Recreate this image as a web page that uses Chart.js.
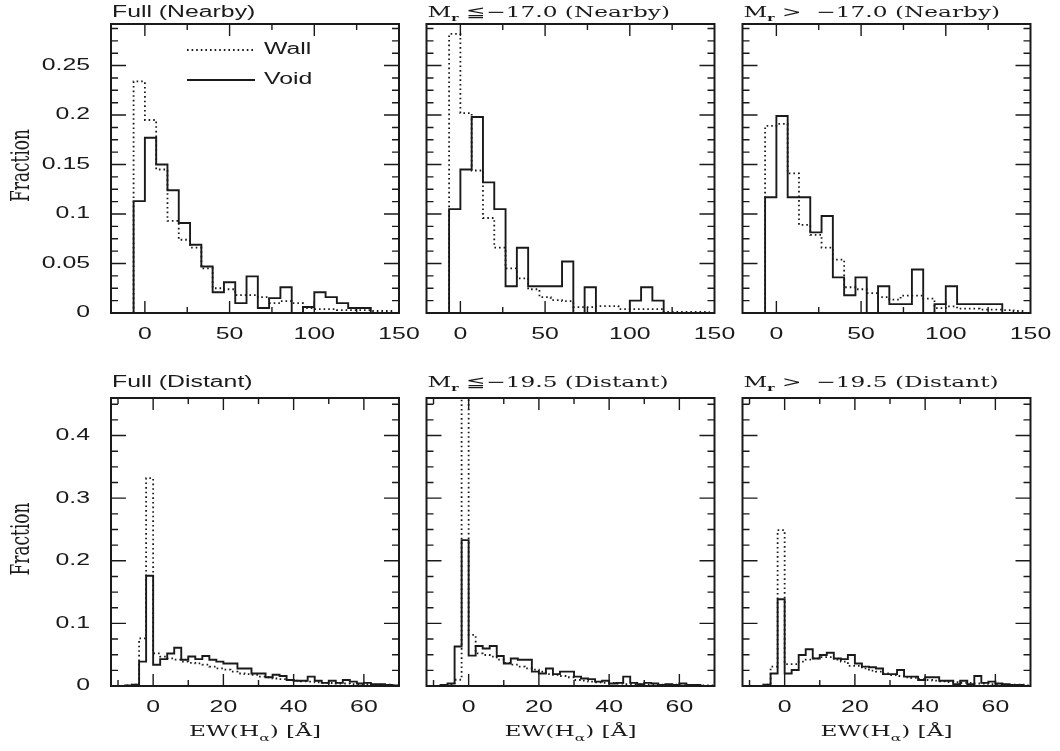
<!DOCTYPE html>
<html>
<head>
<meta charset="utf-8">
<script src="https://cdn.jsdelivr.net/npm/chart.js@4.4.0/dist/chart.umd.min.js"></script>
<style>
  html, body { margin: 0; padding: 0; background: #fff; }
  #wrap { position: relative; width: 1060px; height: 751px; }
  #wrap canvas { position: absolute; left: 0; top: 0; }
</style>
</head>
<body>
<div id="wrap">
  <canvas id="p0" width="1060" height="751"></canvas>
  <canvas id="p1" width="1060" height="751"></canvas>
  <canvas id="p2" width="1060" height="751"></canvas>
  <canvas id="p3" width="1060" height="751"></canvas>
  <canvas id="p4" width="1060" height="751"></canvas>
  <canvas id="p5" width="1060" height="751"></canvas>
</div>
<script>
// =============== Data ===============
// Nearby samples: bins of 20/3 A starting at -20/3
const nearbyBinStart = -20 / 3;
const nearbyBinWidth = 20 / 3;
const nearbyXTicks = [0, 50, 100, 150];
const nearbyYTicks = [0, 0.05, 0.1, 0.15, 0.2, 0.25];

const fullNearbyWall = [0.234, 0.195, 0.145, 0.093, 0.074, 0.066, 0.045, 0.025, 0.024, 0.018, 0.018, 0.016,
  0.010, 0.012, 0.010, 0.005, 0.004, 0.004, 0.003, 0.003, 0.003, 0.002, 0.002];
const fullNearbyVoid = [0.113, 0.177, 0.150, 0.124, 0.091, 0.069, 0.047, 0.021, 0.031, 0.010, 0.037, 0.005,
  0.015, 0.026, 0, 0.006, 0.021, 0.016, 0.010, 0.005, 0.005, 0, 0];

const brightNearbyWall = [0.282, 0.202, 0.144, 0.096, 0.066, 0.045, 0.035, 0.024, 0.016, 0.013, 0.012, 0.006,
  0.006, 0.007, 0.007, 0.004, 0.004, 0.004, 0.004, 0.001, 0.001, 0.001, 0.001];
const brightNearbyVoid = [0.105, 0.145, 0.198, 0.132, 0.105, 0.027, 0.066, 0.027, 0.027, 0.027, 0.052, 0,
  0.026, 0, 0, 0, 0.0125, 0.026, 0.0125, 0, 0, 0, 0];

const faintNearbyWall = [0.189, 0.191, 0.141, 0.089, 0.079, 0.066, 0.054, 0.026, 0.024, 0.020, 0.016, 0.0135,
  0.0175, 0.0175, 0.0145, 0.005, 0.0067, 0.0044, 0.0044, 0.0034, 0.0034, 0.003, 0.002];
const faintNearbyVoid = [0.117, 0.199, 0.117, 0.117, 0.0815, 0.098, 0.036, 0.018, 0.036, 0, 0.027, 0.009,
  0.009, 0.044, 0, 0.009, 0.027, 0.009, 0.009, 0.009, 0.009, 0, 0];

// Distant samples: bins of 2 A starting at -10
const distantBinStart = -10;
const distantBinWidth = 2;
const distantXTicks = [0, 20, 40, 60];
const distantYTicks = [0, 0.1, 0.2, 0.3, 0.4];

const fullDistantWall = [0, 0.001, 0.002, 0.076, 0.332,
  0.052, 0.047, 0.044, 0.042, 0.039, 0.037, 0.036, 0.034, 0.031, 0.028,
  0.026, 0.023, 0.020, 0.019, 0.018, 0.015, 0.014, 0.012, 0.011, 0.0096,
  0.0085, 0.0075, 0.007, 0.006, 0.005, 0.0048, 0.004, 0.004, 0.003, 0.003,
  0.003, 0.002, 0.002, 0.002, 0.001];
const fullDistantVoid = [0, 0.001, 0.002, 0.039, 0.176,
  0.034, 0.043, 0.052, 0.061, 0.042, 0.047, 0.043, 0.048, 0.042, 0.039,
  0.036, 0.036, 0.028, 0.028, 0.020, 0.020, 0.014, 0.018, 0.016, 0.0096,
  0.0085, 0.0085, 0.015, 0.0085, 0.005, 0.0085, 0.005, 0.0096, 0.007, 0.004,
  0.005, 0.003, 0.003, 0.0016, 0.001];

const brightDistantWall = [0, 0, 0.002, 0.01, 0.48,
  0.0815, 0.052, 0.0495, 0.047, 0.042, 0.037, 0.034, 0.031, 0.028, 0.026,
  0.023, 0.019, 0.018, 0.016, 0.014, 0.0096, 0.0085, 0.007, 0.006, 0.005,
  0.005, 0.004, 0.003, 0.003, 0.003, 0.002, 0.002, 0.002, 0.002, 0.002,
  0.001, 0.001, 0.001, 0.001, 0.001];
const brightDistantVoid = [0, 0.0016, 0.004, 0.063, 0.233,
  0.0485, 0.064, 0.060, 0.064, 0.048, 0.036, 0.044, 0.042, 0.042, 0.023,
  0.020, 0.028, 0.019, 0.023, 0.023, 0.015, 0.012, 0.011, 0.007, 0.0085,
  0.004, 0.005, 0.015, 0.005, 0.003, 0.005, 0.004, 0.0016, 0.003, 0.0016,
  0.004, 0.0016, 0.0016, 0, 0];

const faintDistantWall = [0, 0, 0.002, 0.031, 0.249,
  0.035, 0.035, 0.039, 0.042, 0.044, 0.046, 0.046, 0.042, 0.039, 0.032,
  0.032, 0.028, 0.0245, 0.023, 0.020, 0.0176, 0.016, 0.014, 0.013, 0.011,
  0.0096, 0.0085, 0.0075, 0.0064, 0.006, 0.005, 0.005, 0.004, 0.004, 0.003,
  0.003, 0.002, 0.002, 0.002, 0.001];
const faintDistantVoid = [0, 0, 0.002, 0.020, 0.1385,
  0.020, 0.0256, 0.0495, 0.0586, 0.044, 0.0495, 0.053, 0.044, 0.043, 0.0495,
  0.036, 0.031, 0.030, 0.028, 0.019, 0.019, 0.0256, 0.015, 0.015, 0.0096,
  0.014, 0.014, 0.0085, 0.0085, 0.003, 0.0085, 0.003, 0.016, 0.005, 0.007,
  0.004, 0.003, 0.0016, 0.0016, 0];

const seriesLabels = ['Wall', 'Void'];
const yAxisTitle = 'Fraction';
const xAxisTitle = ['EW(H', 'α', ') [Å]'];

// =============== Layout / style ===============
const PAGE_W = 1060, PAGE_H = 751;
const INK = '#1a1a1a';
const SX = 1.55; // the reference text is set wide
const SANS = '"Liberation Sans", Arial, sans-serif';
const SERIF = '"DejaVu Serif", "Liberation Serif", serif';

const colLeft = [111, 426.5, 742.5];
const boxWidth = 288;

const rows = [
  { top: 24, bottom: 313, xMin: -20, xMax: 150, yMax: 0.292, binStart: nearbyBinStart, binWidth: nearbyBinWidth,
    xTicks: nearbyXTicks, xMinor: 25, yTicks: nearbyYTicks, yMinor: 0.0125, titleGap: 7, xTitle: false },
  { top: 398, bottom: 686, xMin: -12, xMax: 70, yMax: 0.46, binStart: distantBinStart, binWidth: distantBinWidth,
    xTicks: distantXTicks, xMinor: 10, yTicks: distantYTicks, yMinor: 0.025, titleGap: 11, xTitle: true },
];

const panels = [
  { row: 0, col: 0, title: ['Full (Nearby)'], wall: fullNearbyWall, void: fullNearbyVoid, legend: true },
  { row: 0, col: 1, title: ['M', 'r', ' ≦−17.0 (Nearby)'], wall: brightNearbyWall, void: brightNearbyVoid },
  { row: 0, col: 2, title: ['M', 'r', ' >  −17.0 (Nearby)'], wall: faintNearbyWall, void: faintNearbyVoid },
  { row: 1, col: 0, title: ['Full (Distant)'], wall: fullDistantWall, void: fullDistantVoid },
  { row: 1, col: 1, title: ['M', 'r', ' ≦−19.5 (Distant)'], wall: brightDistantWall, void: brightDistantVoid },
  { row: 1, col: 2, title: ['M', 'r', ' >  −19.5 (Distant)'], wall: faintDistantWall, void: faintDistantVoid },
];

const wallStyle = { borderColor: INK, borderWidth: 1.8, borderDash: [1.6, 3] };
const voidStyle = { borderColor: INK, borderWidth: 1.9, borderDash: [] };

// =============== Helpers ===============
// histogram -> points for a stepped line (bin edges, dropping to 0 at both ends)
function toSteps(values, start, width) {
  const pts = [{ x: start, y: 0 }];
  values.forEach((v, i) => pts.push({ x: start + i * width, y: v }));
  const end = start + values.length * width;
  pts.push({ x: end, y: values[values.length - 1] });
  pts.push({ x: end, y: 0 });
  return pts;
}

function tickValues(min, max, step) {
  const out = [];
  for (let k = Math.ceil(min / step - 1e-9); k * step <= max + 1e-9; k++) out.push(+(k * step).toFixed(6));
  return out;
}

// draws wide text made of segments [{text, font, dy}]
function wideText(ctx, segs, x, y, align, baseline) {
  ctx.save();
  let total = 0;
  segs.forEach((s) => { ctx.font = s.font; s.w = ctx.measureText(s.text).width; total += s.w; });
  ctx.translate(x, y);
  ctx.scale(SX, 1);
  ctx.textAlign = 'left';
  ctx.textBaseline = baseline || 'alphabetic';
  let cx = align === 'center' ? -total / 2 : align === 'right' ? -total : 0;
  segs.forEach((s) => { ctx.font = s.font; ctx.fillText(s.text, cx, s.dy || 0); cx += s.w; });
  ctx.restore();
}

function titleSegs(title) {
  if (title.length === 1) return [{ text: title[0], font: `16px ${SANS}` }];
  return [
    { text: title[0], font: `15px ${SERIF}` },
    { text: title[1], font: `bold 9px ${SERIF}`, dy: 4 },
    { text: title[2], font: `15px ${SERIF}` },
  ];
}

function framePlugin(panel) {
  const row = rows[panel.row];
  return {
    id: 'frame',
    afterDatasetsDraw(chart) {
      const { ctx, chartArea: a } = chart;
      const xs = chart.scales.x, ys = chart.scales.y;
      ctx.save();
      ctx.strokeStyle = INK;
      ctx.fillStyle = INK;

      // inward ticks on all four sides
      ctx.lineWidth = 1.4;
      ctx.beginPath();
      tickValues(row.xMin, row.xMax, row.xMinor).forEach((v) => {
        const px = xs.getPixelForValue(v);
        if (px <= a.left + 1 || px >= a.right - 1) return;
        const len = row.xTicks.some((t) => Math.abs(t - v) < 1e-6) ? 12 : 6;
        ctx.moveTo(px, a.bottom); ctx.lineTo(px, a.bottom - len);
        ctx.moveTo(px, a.top); ctx.lineTo(px, a.top + len);
      });
      tickValues(0, row.yMax, row.yMinor).forEach((v) => {
        const py = ys.getPixelForValue(v);
        if (py >= a.bottom - 1 || py <= a.top + 1) return;
        const len = row.yTicks.some((t) => Math.abs(t - v) < 1e-6) ? 15 : 7;
        ctx.moveTo(a.left, py); ctx.lineTo(a.left + len, py);
        ctx.moveTo(a.right, py); ctx.lineTo(a.right - len, py);
      });
      ctx.stroke();

      // frame
      ctx.lineWidth = 2;
      ctx.strokeRect(a.left, a.top, a.right - a.left, a.bottom - a.top);

      // x tick labels
      row.xTicks.forEach((v) => {
        wideText(ctx, [{ text: String(v), font: `16px ${SANS}` }], xs.getPixelForValue(v), a.bottom + 22, 'center', 'middle');
      });

      // y tick labels + title on the left column
      if (panel.col === 0) {
        row.yTicks.forEach((v) => {
          wideText(ctx, [{ text: String(v), font: `16px ${SANS}` }], a.left - 21, ys.getPixelForValue(v), 'right', 'middle');
        });
        ctx.save();
        ctx.translate(22, (a.top + a.bottom) / 2 - 3);
        ctx.scale(SX, 1);
        ctx.rotate(-Math.PI / 2);
        ctx.font = `17px ${SERIF}`;
        ctx.textAlign = 'center';
        ctx.textBaseline = 'middle';
        ctx.fillText(yAxisTitle, 0, 0);
        ctx.restore();
      }

      // panel title
      wideText(ctx, titleSegs(panel.title), a.left + 1, a.top - row.titleGap, 'left');

      // x axis title on the bottom row
      if (row.xTitle) {
        wideText(ctx, [
          { text: xAxisTitle[0], font: `15px ${SERIF}` },
          { text: xAxisTitle[1], font: `10px ${SERIF}`, dy: 5 },
          { text: xAxisTitle[2], font: `15px ${SERIF}` },
        ], (a.left + a.right) / 2, a.bottom + 50, 'center');
      }

      // legend
      if (panel.legend) {
        [wallStyle, voidStyle].forEach((st, i) => {
          const ly = a.top + 26 + i * 30;
          ctx.save();
          ctx.lineWidth = st.borderWidth;
          ctx.setLineDash(st.borderDash);
          ctx.beginPath();
          ctx.moveTo(a.left + 76, ly);
          ctx.lineTo(a.left + 144, ly);
          ctx.stroke();
          ctx.restore();
          wideText(ctx, [{ text: seriesLabels[i], font: `16px ${SANS}` }], a.left + 153, ly, 'left', 'middle');
        });
      }
      ctx.restore();
    },
  };
}

// =============== Charts ===============
function makePanel(panel, idx) {
  const row = rows[panel.row];
  const left = colLeft[panel.col];
  return new Chart(document.getElementById('p' + idx), {
    type: 'line',
    data: {
      datasets: [
        { label: seriesLabels[0], data: toSteps(panel.wall, row.binStart, row.binWidth), ...wallStyle,
          stepped: 'before', pointRadius: 0, fill: false, clip: 0 },
        { label: seriesLabels[1], data: toSteps(panel.void, row.binStart, row.binWidth), ...voidStyle,
          stepped: 'before', pointRadius: 0, fill: false, clip: 0 },
      ],
    },
    options: {
      responsive: false,
      animation: false,
      devicePixelRatio: 1,
      layout: { padding: { left: left, top: row.top, right: PAGE_W - left - boxWidth, bottom: PAGE_H - row.bottom } },
      scales: {
        x: { type: 'linear', min: row.xMin, max: row.xMax, display: false },
        y: { type: 'linear', min: 0, max: row.yMax, display: false },
      },
      plugins: { legend: { display: false }, tooltip: { enabled: false }, title: { display: false } },
    },
    plugins: [framePlugin(panel)],
  });
}

panels.forEach(makePanel);
</script>
</body>
</html>
